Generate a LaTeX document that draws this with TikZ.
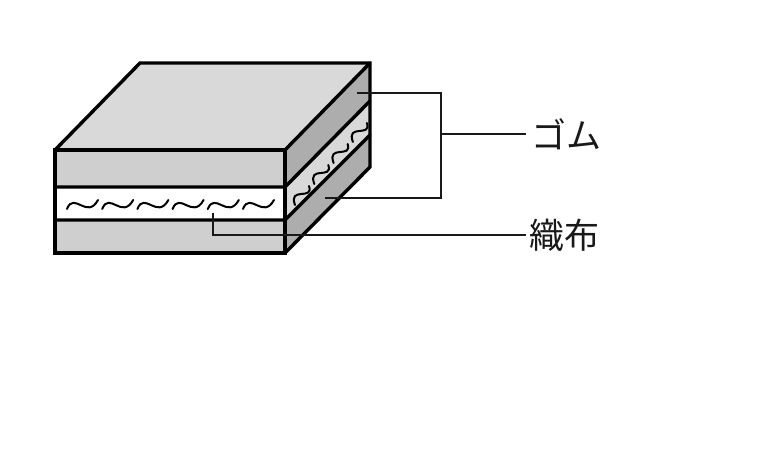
\documentclass[tikz,border=0pt]{standalone}
\usepackage{fontspec}
\newfontfamily\jpfont{Noto Sans CJK JP}
\definecolor{frontgray}{HTML}{CFCFCF}
\definecolor{topgray}{HTML}{D9D9D9}
\definecolor{sidegray}{HTML}{ADADAD}
\tikzset{
  edge/.style={line width=3.4pt,line join=miter,line cap=round},
  wave/.style={line width=2pt,line cap=round},
  leader/.style={line width=1.8pt,line join=miter,draw=black!90},
  label/.style={font=\jpfont\fontsize{35}{35}\selectfont,inner sep=0pt,anchor=west,text=black!90}
}
\begin{document}
\begin{tikzpicture}[x=1pt,y=-1pt]
\useasboundingbox (0,0) rectangle (768,471);
\coordinate (fa) at (55,150);
\coordinate (fb) at (285,150);
\coordinate (fc) at (285,253);
\coordinate (fd) at (55,253);
\coordinate (tb) at (140,63);
\coordinate (tc) at (370,63);
\coordinate (sc) at (370,167);
\coordinate (l1) at (55,187);
\coordinate (m1) at (285,187);
\coordinate (l2) at (55,220);
\coordinate (m2) at (285,220);
\coordinate (r1) at (370,101);
\coordinate (r2) at (370,135);
% faces
\fill[frontgray] (fa) rectangle (fc);
\fill[white] (l1) rectangle (m2);
\fill[topgray] (fa) -- (tb) -- (tc) -- (fb) -- cycle;
\fill[sidegray] (fb) -- (tc) -- (sc) -- (fc) -- cycle;
\fill[topgray] (m1) -- (r1) -- (r2) -- (m2) -- cycle;
% woven waves
\foreach \i in {0,...,5}{
  \draw[wave,xshift=35.2*\i] (67,209) .. controls (74,191) and (87,220) .. (98,200);
}
\foreach \i in {0,...,3}{
  \draw[wave,xshift=19.3*\i,yshift=21*\i] (295,205) .. controls (288,186) and (314,201) .. (309,186);
}
% outline
\draw[edge] (fa) rectangle (fc);
\draw[edge] (l1) -- (m1) -- (r1);
\draw[edge] (l2) -- (m2) -- (r2);
\draw[edge] (fa) -- (tb) -- (tc) -- (sc) -- (fc);
\draw[edge] (fb) -- (tc);
% labels and leaders
\node[label] (gomu) at (531,134) {ゴム};
\node[label] (cloth) at (529,235) {織布};
\coordinate (g1) at (357,93);
\coordinate (g2) at (441,93);
\coordinate (g3) at (441,198);
\coordinate (g4) at (325,198);
\coordinate (gj) at (441,134);
\coordinate (c1) at (213,213);
\coordinate (c2) at (213,235);
\draw[leader] (g1) -- (g2) -- (g3) -- (g4);
\draw[leader] (gj) -- ([xshift=-5pt]gomu.west);
\draw[leader] (c1) -- (c2) -- ([xshift=-3pt]cloth.west);
\end{tikzpicture}
\end{document}
